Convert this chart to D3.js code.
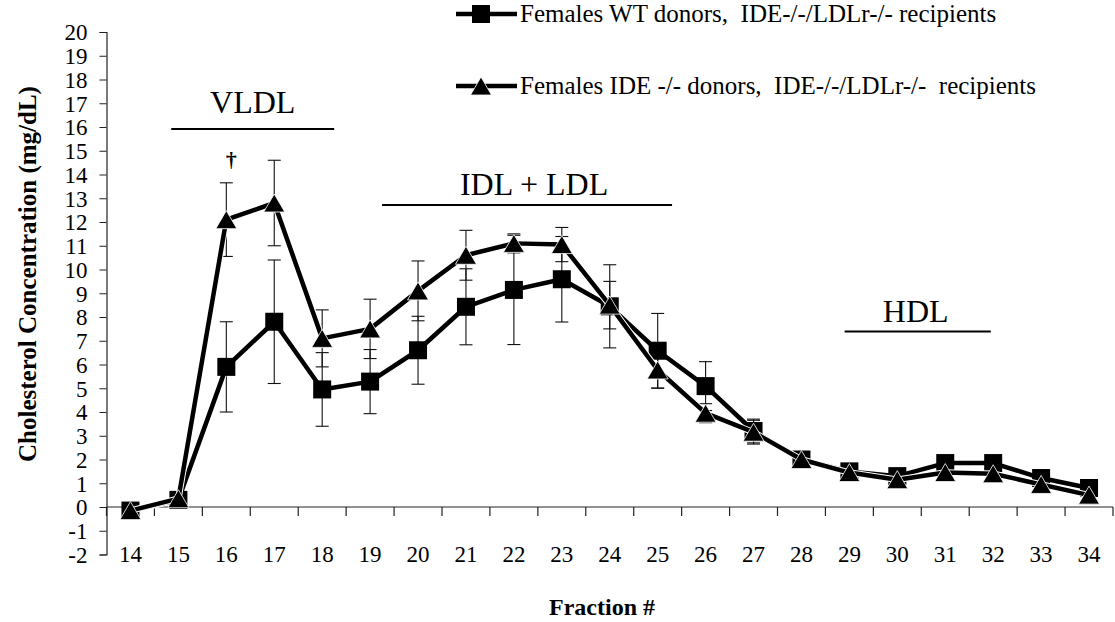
<!DOCTYPE html>
<html>
<head>
<meta charset="utf-8">
<script src="https://cdn.jsdelivr.net/npm/d3@7"></script>
<style>
  html, body { margin: 0; padding: 0; background: #fff; }
  svg { display: block; font-family: "Liberation Serif", "Times New Roman", serif; }
  svg text { white-space: pre; }
</style>
</head>
<body>
<svg id="chart" width="1115" height="622"></svg>
<script>
// Lipoprotein fractions collected from FPLC
const fractions = [14, 15, 16, 17, 18, 19, 20, 21, 22, 23, 24, 25, 26, 27, 28, 29, 30, 31, 32, 33, 34];

// Females, WT donors -> IDE-/-/LDLr-/- recipients (mean, SEM)
const wtMean = [-0.15, 0.3, 5.9, 7.8, 4.95, 5.28, 6.6, 8.43, 9.14, 9.59, 8.45, 6.58, 5.09, 3.2, 2.0, 1.5, 1.3, 1.85, 1.85, 1.22, 0.8];
const wtErr  = [0, 0, 1.9, 2.6, 1.55, 1.35, 1.43, 1.6, 2.3, 1.8, 1.75, 1.57, 1.03, 0.5, 0.15, 0.1, 0.1, 0.15, 0.15, 0.1, 0.1];

// Females, IDE-/- donors -> IDE-/-/LDLr-/- recipients (mean, SEM)
const ideMean = [-0.15, 0.35, 12.1, 12.8, 7.1, 7.5, 9.1, 10.6, 11.1, 11.05, 8.5, 5.77, 3.95, 3.15, 2.0, 1.45, 1.15, 1.45, 1.4, 0.95, 0.5];
const ideErr  = [0, 0, 1.55, 1.8, 1.2, 1.25, 1.26, 1.05, 0.4, 0.72, 1.0, 0.77, 0.4, 0.5, 0.15, 0.1, 0.1, 0.1, 0.1, 0.1, 0.1];

const yTicks = d3.range(-2, 21);

const seriesNames = [
  "Females WT donors,  IDE-/-/LDLr-/- recipients",
  "Females IDE -/- donors,  IDE-/-/LDLr-/-  recipients"
];

// Lipoprotein class spans, in fraction units
const regions = [
  { label: "VLDL",      from: 14.85, to: 18.25 },
  { label: "IDL + LDL", from: 19.25, to: 25.3 },
  { label: "HDL",       from: 28.9,  to: 31.95 }
];

const svg = d3.select("#chart");
const plotLeft = 106.5, plotRight = 1113, plotTop = 32, plotBottom = 554.5;
const serif = "Liberation Serif, Times New Roman, serif";

const x = d3.scaleBand().domain(fractions).range([plotLeft, plotRight]).padding(0);
const cx = f => x(f) + x.bandwidth() / 2;
const y = d3.scaleLinear().domain([-2, 20]).range([plotBottom, plotTop]);
// continuous helper for region bars
const xf = d3.scaleLinear().domain([14, 34]).range([cx(14), cx(34)]);
const fmt = d => String(d);   // plain hyphen for negatives

// ---- axes ----
const yAxis = d3.axisLeft(y).tickValues(yTicks).tickSize(7).tickPadding(12).tickFormat(fmt);
const gy = svg.append("g").attr("transform", `translate(${plotLeft},0)`).call(yAxis)
  .attr("font-family", serif);
gy.select(".domain").attr("stroke", "#222").attr("stroke-width", 1.2);
gy.selectAll(".tick line").attr("stroke", "#222");
gy.selectAll(".tick text").attr("font-size", 23).attr("fill", "#000").attr("dy", "0.34em");

const xAxis = d3.axisBottom(x).tickSize(0).tickFormat(fmt);
const gx = svg.append("g").attr("transform", `translate(0,${y(0)})`).call(xAxis)
  .attr("font-family", serif);
gx.select(".domain").remove();
gx.selectAll(".tick text").attr("font-size", 23).attr("fill", "#000")
  .attr("y", y(-2) - y(0)).attr("dy", "0.34em");
// baseline at zero with ticks between fractions
svg.append("line").attr("x1", plotLeft).attr("x2", plotRight).attr("y1", y(0)).attr("y2", y(0))
  .attr("stroke", "#222").attr("stroke-width", 1.2);
svg.append("g").selectAll("line").data(fractions.concat([null]))
  .join("line")
  .attr("x1", (d, i) => i < fractions.length ? x(d) : plotRight)
  .attr("x2", (d, i) => i < fractions.length ? x(d) : plotRight)
  .attr("y1", y(0)).attr("y2", y(0) + 9)
  .attr("stroke", "#222").attr("stroke-width", 1.2);

// axis titles
svg.append("text")
  .attr("transform", `translate(36, 274) rotate(-90)`)
  .attr("text-anchor", "middle").attr("font-weight", "bold").attr("font-size", 25)
  .text("Cholesterol Concentration (mg/dL)");
svg.append("text")
  .attr("x", 602).attr("y", 615)
  .attr("text-anchor", "middle").attr("font-weight", "bold").attr("font-size", 24)
  .text("Fraction #");

// ---- region bars ----
const regionY = { "VLDL": 129, "IDL + LDL": 205, "HDL": 331.5 };
const regionGap = { "VLDL": 16, "IDL + LDL": 10, "HDL": 10 };
const regionShift = { "VLDL": 0, "IDL + LDL": 7, "HDL": -2 };
const rg = svg.append("g");
regions.forEach(r => {
  const yy = regionY[r.label];
  rg.append("line").attr("x1", xf(r.from)).attr("x2", xf(r.to)).attr("y1", yy).attr("y2", yy)
    .attr("stroke", "#000").attr("stroke-width", 2);
  rg.append("text").attr("x", (xf(r.from) + xf(r.to)) / 2 + regionShift[r.label])
    .attr("y", yy - regionGap[r.label])
    .attr("text-anchor", "middle").attr("font-size", 32).text(r.label);
});

// ---- series ----
const series = [
  { mean: wtMean,  err: wtErr,  shape: "square" },
  { mean: ideMean, err: ideErr, shape: "triangle" }
];

// error bars
series.forEach(s => {
  const g = svg.append("g").attr("stroke", "#111").attr("stroke-width", 1.1);
  fractions.forEach((f, i) => {
    const e = s.err[i];
    if (!e) return;
    const px = cx(f), hi = y(s.mean[i] + e), lo = y(s.mean[i] - e);
    g.append("line").attr("x1", px).attr("x2", px).attr("y1", hi).attr("y2", lo);
    g.append("line").attr("x1", px - 6.5).attr("x2", px + 6.5).attr("y1", hi).attr("y2", hi);
    g.append("line").attr("x1", px - 6.5).attr("x2", px + 6.5).attr("y1", lo).attr("y2", lo);
  });
});

const line = d3.line().x((d, i) => cx(fractions[i])).y(d => y(d));
const sq = 18, triW = 21, triH = 18;
function drawMarker(g, shape, px, py) {
  if (shape === "square") {
    g.append("rect").attr("x", px - sq / 2).attr("y", py - sq / 2)
      .attr("width", sq).attr("height", sq).attr("fill", "#000");
  } else {
    g.append("path")
      .attr("d", `M${px},${py - triH / 2}L${px + triW / 2},${py + triH / 2}L${px - triW / 2},${py + triH / 2}Z`)
      .attr("fill", "#000").attr("stroke", "#fff").attr("stroke-width", 0.8);
  }
}

series.forEach(s => {
  svg.append("path").datum(s.mean).attr("d", line)
    .attr("fill", "none").attr("stroke", "#fff").attr("stroke-width", 6.5).attr("stroke-linejoin", "round");
  svg.append("path").datum(s.mean).attr("d", line)
    .attr("fill", "none").attr("stroke", "#000").attr("stroke-width", 4.5).attr("stroke-linejoin", "round");
  const g = svg.append("g");
  s.mean.forEach((v, i) => drawMarker(g, s.shape, cx(fractions[i]), y(v)));
});

// significance mark over fraction 16
svg.append("text").attr("x", cx(16) + 5).attr("y", y(ideMean[2] + ideErr[2]) - 16)
  .attr("text-anchor", "middle").attr("font-size", 22).attr("font-weight", "bold").text("\u2020");

// ---- legend ----
const legendRows = [
  { name: seriesNames[0], shape: "square",   yy: 14 },
  { name: seriesNames[1], shape: "triangle", yy: 86 }
];
const lg = svg.append("g");
legendRows.forEach(r => {
  lg.append("line").attr("x1", 456).attr("x2", 517).attr("y1", r.yy).attr("y2", r.yy)
    .attr("stroke", "#000").attr("stroke-width", 4.5);
  drawMarker(lg, r.shape, 481, r.yy);
  lg.append("text").attr("x", 520).attr("y", r.yy + 8).attr("font-size", 25).text(r.name);
});
</script>
</body>
</html>
